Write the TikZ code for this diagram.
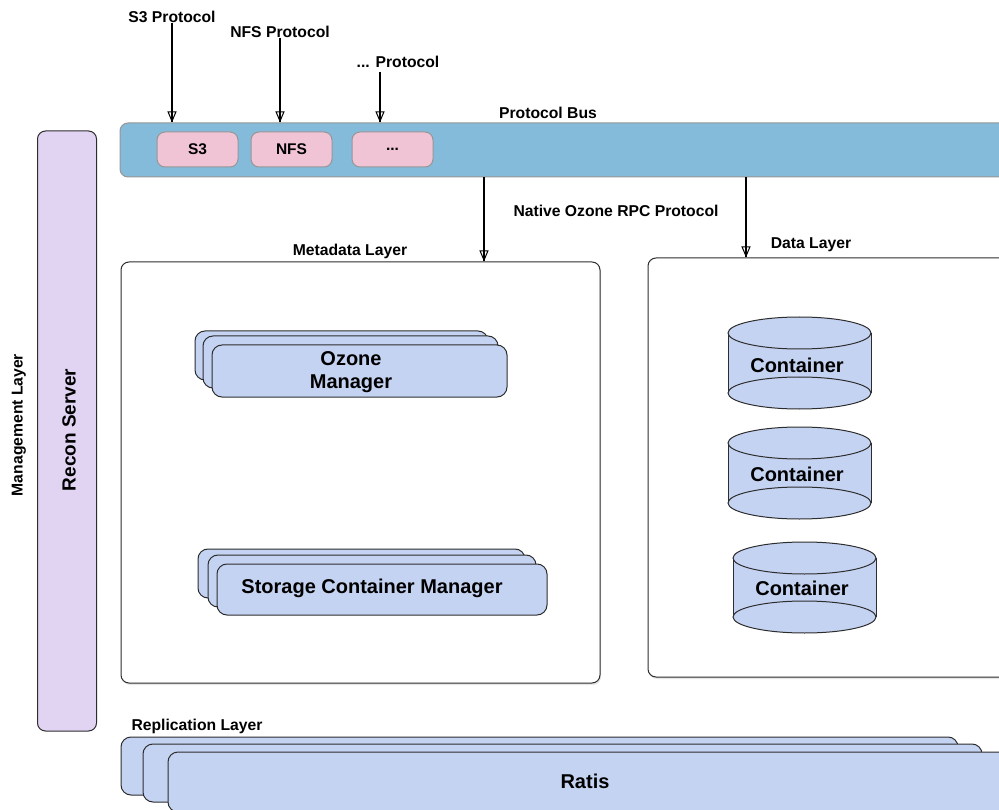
\documentclass[tikz,border=0pt]{standalone}
\usepackage{fontspec}
\setmainfont{Liberation Sans}
\usetikzlibrary{arrows.meta,shadows}
\definecolor{bluefill}{RGB}{197,211,243}
\definecolor{busfill}{RGB}{133,187,218}
\definecolor{pinkfill}{RGB}{240,196,212}
\definecolor{lavfill}{RGB}{225,212,243}
\definecolor{edgecol}{RGB}{45,45,45}
\definecolor{grayedge}{RGB}{150,150,150}
\newcommand\mycyl[3]{%
  \fill[bluefill] (#1-71.5,#2) rectangle (#1+71.5,#3);
  \draw[edgecol,line width=1pt] (#1-71.5,#2) -- (#1-71.5,#3) (#1+71.5,#2) -- (#1+71.5,#3);
  \draw[edgecol,line width=1pt,fill=bluefill] (#1,#3) ellipse [x radius=71.5pt, y radius=16pt];
  \draw[edgecol,line width=1pt,fill=bluefill] (#1,#2) ellipse [x radius=71.5pt, y radius=16pt];
}
\begin{document}
\begin{tikzpicture}[x=1pt,y=-1pt,
  lbl/.style={font=\bfseries\fontsize{15.7}{18}\selectfont, inner sep=0pt},
  big/.style={font=\bfseries\fontsize{20}{23}\selectfont, align=center, inner sep=0pt},
  box/.style={draw=edgecol, line width=1pt, rounded corners=8pt, inner sep=0pt},
  stackbox/.style={box, fill=bluefill, rounded corners=10pt},
  pinkbox/.style={box, draw=grayedge, fill=pinkfill, minimum width=81pt, minimum height=35pt, font=\bfseries\fontsize{15.5}{18}\selectfont},
  layerbox/.style={box, fill=white, drop shadow={opacity=0.2, shadow xshift=1pt, shadow yshift=-2pt}},
  arr/.style={draw=black, line width=1.1pt, -{Triangle[open,length=11pt,width=9pt,line width=1pt]}},
  shaft/.style={draw=black, line width=1.1pt},
]
\useasboundingbox (0,0) rectangle (999,810);
\clip (0,0) rectangle (999,810);

% protocol labels
\node[lbl] (s3p) at (172,17) {S3 Protocol};
\node[lbl] (nfsp) at (280,32) {NFS Protocol};
\node[lbl] (dotp) at (398,62) {... Protocol};
\coordinate (dstart) at (380,72);

% protocol bus
\node[lbl] (buslbl) at (548,113) {Protocol Bus};
\node[box, draw=grayedge, fill=busfill, minimum width=890pt, minimum height=54pt] (bus) at (565,150) {};
\node[pinkbox] (s3) at (197.5,149.5) {S3};
\node[pinkbox] (nfs) at (291.5,149.5) {NFS};
\node[pinkbox] (dots) at (392.5,149.5) {...};

\draw[arr] ([yshift=-6pt]s3p.center) -- (s3p.center |- bus.north);
\draw[shaft] ([yshift=-6pt]s3p.center) -- (s3p.center |- bus.north);
\draw[arr] ([yshift=-6pt]nfsp.center) -- (nfsp.center |- bus.north);
\draw[shaft] ([yshift=-6pt]nfsp.center) -- (nfsp.center |- bus.north);
\draw[arr] (dstart) -- (dstart |- bus.north);
\draw[shaft] (dstart) -- (dstart |- bus.north);

% layers
\node[lbl] (rpc) at (616,211) {Native Ozone RPC Protocol};
\node[lbl] (metalbl) at (350,251) {Metadata Layer};
\node[lbl] (datalbl) at (811,245) {Data Layer};
\node[layerbox, minimum width=479pt, minimum height=421pt] (meta) at (360.5,472.5) {};
\node[layerbox, minimum width=362pt, minimum height=419pt] (data) at (829,467.5) {};

\coordinate (xa) at (484,0);
\coordinate (xb) at (746,0);
\draw[arr] (bus.south -| xa) -- (meta.north -| xa);
\draw[shaft] (bus.south -| xa) -- (meta.north -| xa);
\draw[arr] (bus.south -| xb) -- (data.north -| xb);
\draw[shaft] (bus.south -| xb) -- (data.north -| xb);

% Ozone Manager stack
\node[stackbox, minimum width=293pt, minimum height=49pt] (om3) at (341.5,355.5) {};
\node[stackbox, minimum width=295pt, minimum height=52pt] (om2) at (350.5,362) {};
\node[stackbox, minimum width=295pt, minimum height=52pt] (om1) at (359.5,371) {};
\node[big] (omtxt) at (351,372) {Ozone\\Manager};

% SCM stack
\node[stackbox, minimum width=327pt, minimum height=49pt] (scm3) at (361.5,573.5) {};
\node[stackbox, minimum width=328pt, minimum height=52pt] (scm2) at (372,581) {};
\node[stackbox, minimum width=330pt, minimum height=51pt] (scm1) at (382,589.5) {};
\node[big] (scmtxt) at (372,588) {Storage Container Manager};

% containers
\mycyl{799.5}{333}{393}
\node[big] (c1) at (797,365) {Container};
\mycyl{799.5}{443}{503}
\node[big] (c2) at (797,474) {Container};
\mycyl{804.5}{558}{617}
\node[big] (c3) at (802,588) {Container};

% management layer
\node[box, fill=lavfill, minimum width=59pt, minimum height=600pt] (recon) at (67,431) {};
\node[big, font=\bfseries\fontsize{19}{22}\selectfont, rotate=90] (recontxt) at (69,430) {Recon Server};
\node[lbl, rotate=90] (mgmt) at (19,425) {Management Layer};

% replication layer
\node[lbl] (repl) at (197,726) {Replication Layer};
\node[stackbox, minimum width=837pt, minimum height=58pt] (r3) at (539.5,766) {};
\node[stackbox, minimum width=839pt, minimum height=58pt] (r2) at (562.5,773) {};
\node[stackbox, minimum width=842pt, minimum height=60pt] (r1) at (589,782) {};
\node[big] (ratis) at (585,781) {Ratis};
\end{tikzpicture}
\end{document}
